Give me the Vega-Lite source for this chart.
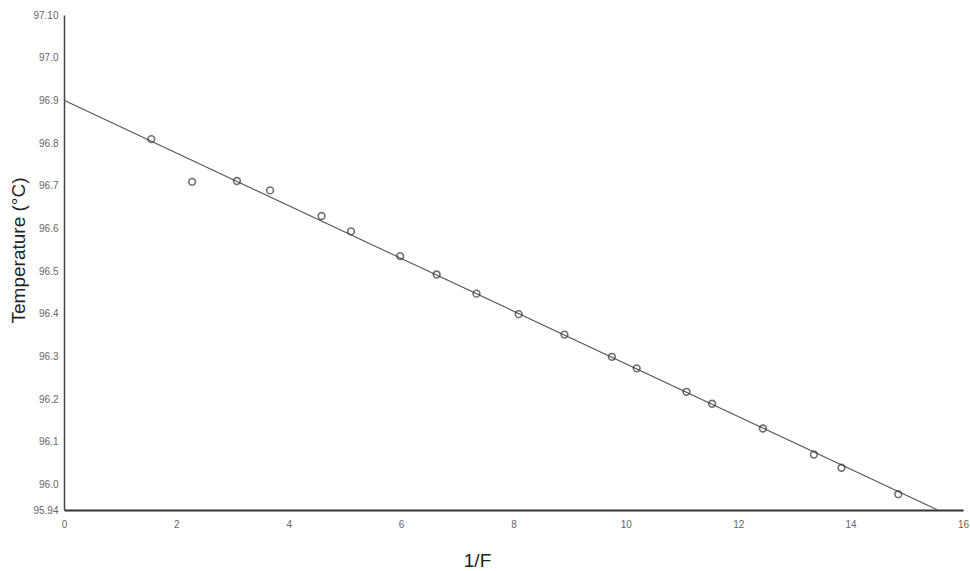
{
  "$schema": "https://vega.github.io/schema/vega-lite/v6.json",
  "width": 899,
  "height": 495,
  "autosize": {"type": "none"},
  "padding": {"left": 64, "top": 15, "right": 7, "bottom": 61},
  "background": "white",
  "config": {"view": {"stroke": null}, "font": "Liberation Sans"},
  "datasets": {
    "pts": [
      {"invF": 1.554, "temp": 96.809},
      {"invF": 2.28, "temp": 96.709},
      {"invF": 3.078, "temp": 96.711},
      {"invF": 3.668, "temp": 96.689},
      {"invF": 4.584, "temp": 96.629},
      {"invF": 5.108, "temp": 96.593},
      {"invF": 5.983, "temp": 96.535},
      {"invF": 6.632, "temp": 96.492},
      {"invF": 7.341, "temp": 96.447},
      {"invF": 8.092, "temp": 96.399},
      {"invF": 8.907, "temp": 96.351},
      {"invF": 9.75, "temp": 96.299},
      {"invF": 10.193, "temp": 96.272},
      {"invF": 11.079, "temp": 96.217},
      {"invF": 11.534, "temp": 96.189},
      {"invF": 12.438, "temp": 96.131},
      {"invF": 13.347, "temp": 96.07},
      {"invF": 13.838, "temp": 96.039},
      {"invF": 14.848, "temp": 95.977}
    ],
    "fit": [
      {"invF": 0, "temp": 96.9},
      {"invF": 15.55, "temp": 95.94}
    ]
  },
  "layer": [
    {
      "data": {"name": "fit"},
      "mark": {"type": "line", "color": "#555555", "strokeWidth": 1.1},
      "encoding": {
        "x": {"field": "invF", "type": "quantitative"},
        "y": {"field": "temp", "type": "quantitative"}
      }
    },
    {
      "data": {"name": "pts"},
      "mark": {"type": "point", "shape": "circle", "filled": false, "color": "#333333", "strokeWidth": 1.6, "size": 45},
      "encoding": {
        "x": {
          "field": "invF", "type": "quantitative",
          "scale": {"domain": [0, 16], "nice": false, "zero": false},
          "axis": {
            "title": "1/F", "values": [0, 2, 4, 6, 8, 10, 12, 14, 16], "format": "d",
            "grid": false, "ticks": false, "domainColor": "#333333", "domainWidth": 2,
            "labelColor": "#666666", "labelFontSize": 10, "labelPadding": 9, "labelFlush": false,
            "titleFontSize": 19, "titleFontWeight": "normal", "titleColor": "#222222",
            "titleX": 413, "titleY": 56, "titleAnchor": null, "titleAlign": "center", "titleBaseline": "alphabetic"
          }
        },
        "y": {
          "field": "temp", "type": "quantitative",
          "scale": {"domain": [95.94, 97.1], "nice": false, "zero": false},
          "axis": {
            "title": "Temperature (°C)",
            "values": [95.94, 96.0, 96.1, 96.2, 96.3, 96.4, 96.5, 96.6, 96.7, 96.8, 96.9, 97.0, 97.1],
            "labelExpr": "datum.value == 97.1 || datum.value == 95.94 ? format(datum.value, '.2f') : format(datum.value, '.1f')",
            "grid": false, "ticks": false, "domainColor": "#444444", "domainWidth": 1.5,
            "labelColor": "#666666", "labelFontSize": 10, "labelPadding": 6,
            "titleFontSize": 19, "titleFontWeight": "normal", "titleColor": "#222222",
            "titleX": -46, "titleY": 235, "titleAngle": -90, "titleAlign": "center", "titleBaseline": "middle"
          }
        }
      }
    }
  ]
}
